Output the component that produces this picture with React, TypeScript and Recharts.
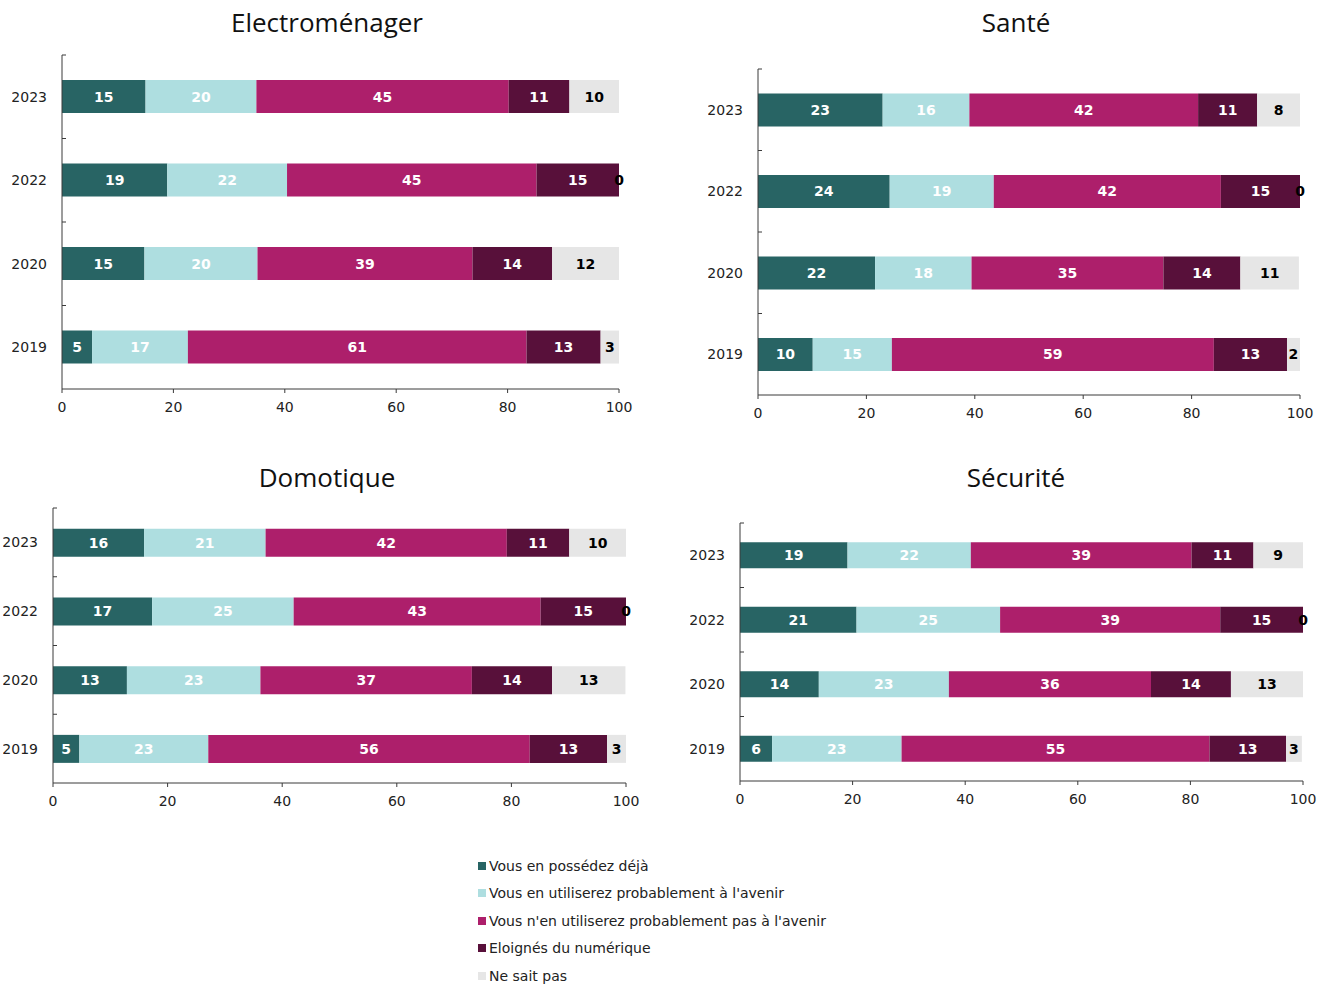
import React from "react";
import { BarChart, Bar, XAxis, YAxis, LabelList } from "recharts";

const years = ["2023", "2022", "2020", "2019"];
const seriesNames = [
  "Vous en possédez déjà",
  "Vous en utiliserez probablement à l'avenir",
  "Vous n'en utiliserez probablement pas à l'avenir",
  "Eloignés du numérique",
  "Ne sait pas",
];
const seriesColors = ["#286464", "#AEDEE0", "#AD1F6B", "#58103A", "#E6E6E6"];
const labelColors = ["#FFFFFF", "#FFFFFF", "#FFFFFF", "#FFFFFF", "#000000"];
const xTicks = [0, 20, 40, 60, 80, 100];

// Bar lengths (as drawn) and printed labels, per panel, rows in order of years
const electroWidths = [
  [15.0, 19.9, 45.3, 10.9, 8.9],
  [18.9, 21.5, 44.8, 14.8, 0],
  [14.8, 20.3, 38.6, 14.3, 12.0],
  [5.4, 17.2, 60.8, 13.3, 3.3],
];
const electroLabels = [
  [15, 20, 45, 11, 10],
  [19, 22, 45, 15, 0],
  [15, 20, 39, 14, 12],
  [5, 17, 61, 13, 3],
];
const santeWidths = [
  [23.0, 16.0, 42.2, 10.9, 7.9],
  [24.3, 19.2, 41.9, 14.6, 0],
  [21.6, 17.8, 35.4, 14.2, 10.8],
  [10.1, 14.6, 59.4, 13.5, 2.4],
];
const santeLabels = [
  [23, 16, 42, 11, 8],
  [24, 19, 42, 15, 0],
  [22, 18, 35, 14, 11],
  [10, 15, 59, 13, 2],
];
const domoWidths = [
  [15.9, 21.2, 42.1, 10.9, 9.9],
  [17.3, 24.7, 43.1, 14.9, 0],
  [12.9, 23.3, 36.9, 14.0, 12.8],
  [4.6, 22.5, 56.1, 13.5, 3.3],
];
const domoLabels = [
  [16, 21, 42, 11, 10],
  [17, 25, 43, 15, 0],
  [13, 23, 37, 14, 13],
  [5, 23, 56, 13, 3],
];
const secuWidths = [
  [19.1, 21.9, 39.2, 11.0, 8.8],
  [20.7, 25.5, 39.1, 14.7, 0],
  [14.0, 23.1, 35.9, 14.2, 12.8],
  [5.7, 23.0, 54.7, 13.6, 2.8],
];
const secuLabels = [
  [19, 22, 39, 11, 9],
  [21, 25, 39, 15, 0],
  [14, 23, 36, 14, 13],
  [6, 23, 55, 13, 3],
];

const FONT = "'DejaVu Sans', Verdana, sans-serif";
const AXIS_COLOR = "#3a3a3a";

function buildRows(widths: number[][], labels: number[][]) {
  return years.map((y, i) => {
    const row: any = { year: y };
    for (let k = 0; k < 5; k++) {
      row["s" + k] = widths[i][k];
      row["l" + k] = labels[i][k];
    }
    return row;
  });
}

type PanelProps = {
  title: string;
  widths: number[][];
  labels: number[][];
  plotLeft: number;
  plotTop: number;
  plotRight: number;
  plotBottom: number;
  titleX: number;
  titleY: number;
};

function Panel(p: PanelProps) {
  const yW = 50;
  const topPad = 10;
  const rightPad = 30;
  const xH = 34;
  const plotW = p.plotRight - p.plotLeft;
  const plotH = p.plotBottom - p.plotTop;
  const band = plotH / years.length;
  const width = plotW + yW + rightPad;
  const height = plotH + topPad + xH;
  const data = buildRows(p.widths, p.labels);

  const YTick = (props: any) => {
    const { y, payload } = props;
    return (
      <g>
        <line x1={yW} x2={yW + 4} y1={y - band / 2} y2={y - band / 2} stroke={AXIS_COLOR} strokeWidth={1} />
        <text x={yW - 15} y={y} dy="0.35em" textAnchor="end" fontFamily={FONT} fontSize={14} fill="#222">
          {payload.value}
        </text>
      </g>
    );
  };

  // "Ne sait pas" label for rows where that segment has no length:
  // drawn at the end of the preceding segment, where the empty segment sits.
  const ZeroLastLabel = (props: any) => {
    const { x, y, width: w, height: h, index, value } = props;
    if (data[index] == null || data[index].s4 !== 0) return null;
    return (
      <text
        x={x + w}
        y={y + h / 2}
        dy="0.36em"
        textAnchor="middle"
        fontFamily={FONT}
        fontSize={14}
        fontWeight="bold"
        fill={labelColors[4]}
      >
        {value}
      </text>
    );
  };

  return (
    <>
      <div
        style={{
          position: "absolute",
          left: p.titleX - 300,
          top: p.titleY - 18,
          width: 600,
          height: 36,
          lineHeight: "36px",
          textAlign: "center",
          fontFamily: "'Open Sans', sans-serif",
          fontSize: 26,
          color: "#111",
        }}
      >
        {p.title}
      </div>
      <div style={{ position: "absolute", left: p.plotLeft - yW, top: p.plotTop - topPad }}>
        <BarChart
          width={width}
          height={height}
          data={data}
          layout="vertical"
          margin={{ top: topPad, right: rightPad, bottom: 0, left: 0 }}
          barCategoryGap="30%"
        >
          <XAxis
            type="number"
            domain={[0, 100]}
            ticks={xTicks}
            height={xH}
            tickSize={4}
            tickMargin={9}
            axisLine={{ stroke: AXIS_COLOR }}
            tickLine={{ stroke: AXIS_COLOR }}
            tick={{ fontFamily: FONT, fontSize: 14, fill: "#222" }}
            interval={0}
          />
          <YAxis
            type="category"
            dataKey="year"
            width={yW}
            axisLine={{ stroke: AXIS_COLOR }}
            tickLine={false}
            tick={<YTick />}
            interval={0}
          />
          {seriesColors.map((c, k) => (
            <Bar key={k} dataKey={"s" + k} stackId="a" fill={c} isAnimationActive={false} name={seriesNames[k]}>
              <LabelList
                dataKey={"l" + k}
                position="center"
                fill={labelColors[k]}
                fontFamily={FONT}
                fontSize={14}
                fontWeight="bold"
              />
              {k === 3 ? <LabelList dataKey="l4" content={<ZeroLastLabel />} /> : null}
            </Bar>
          ))}
        </BarChart>
      </div>
    </>
  );
}

export default function App() {
  return (
    <div style={{ position: "absolute", left: 0, top: 0, width: 1330, height: 984, background: "#fff" }}>
      <Panel title="Electroménager" widths={electroWidths} labels={electroLabels}
        plotLeft={62} plotTop={55} plotRight={619} plotBottom={389} titleX={327} titleY={22} />
      <Panel title="Santé" widths={santeWidths} labels={santeLabels}
        plotLeft={758} plotTop={69} plotRight={1300} plotBottom={395} titleX={1016} titleY={22} />
      <Panel title="Domotique" widths={domoWidths} labels={domoLabels}
        plotLeft={53} plotTop={508} plotRight={626} plotBottom={783} titleX={327} titleY={477} />
      <Panel title="Sécurité" widths={secuWidths} labels={secuLabels}
        plotLeft={740} plotTop={523} plotRight={1303} plotBottom={781} titleX={1016} titleY={477} />
      <div style={{ position: "absolute", left: 478, top: 852 }}>
        {seriesNames.map((n, k) => (
          <div key={k} style={{ display: "flex", alignItems: "center", height: 27.5 }}>
            <span style={{ display: "inline-block", width: 8, height: 8, background: seriesColors[k], marginRight: 3 }} />
            <span style={{ fontFamily: FONT, fontSize: 14, color: "#222" }}>{n}</span>
          </div>
        ))}
      </div>
    </div>
  );
}
